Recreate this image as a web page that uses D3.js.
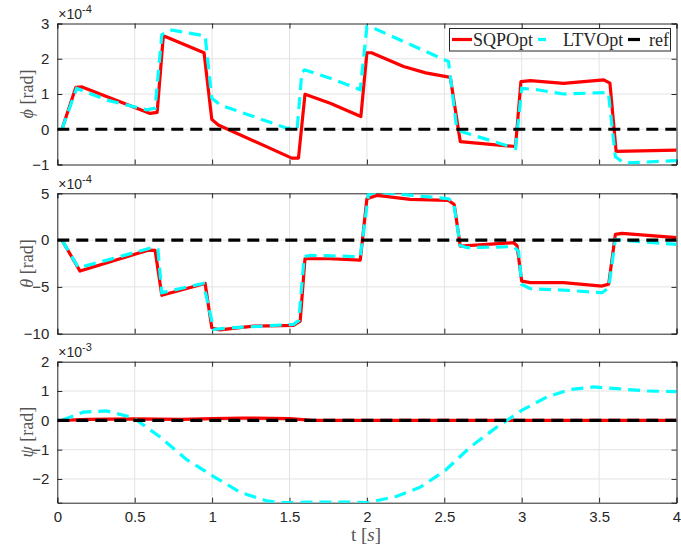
<!DOCTYPE html>
<html>
<head>
<meta charset="utf-8">
<script src="https://cdn.jsdelivr.net/npm/d3@7"></script>
<style>
  html, body { margin: 0; padding: 0; background: #fff; }
  svg { display: block; }
</style>
</head>
<body>
<svg id="chart" width="681" height="548"></svg>
<script>
// Roll angle phi (x1e-4 rad)
const phiSqpT = [0.03, 0.12, 0.16, 0.60, 0.645, 0.685, 0.948, 0.998, 1.04, 1.515, 1.558, 1.60, 1.763, 1.961, 2.0, 2.03, 2.12, 2.237, 2.38, 2.539, 2.603, 2.96, 2.995, 3.056, 3.27, 3.53, 3.57, 3.61, 4.0];
const phiSqp  = [0, 1.19, 1.2, 0.45, 0.48, 2.65, 2.17, 0.28, 0.12, -0.82, -0.82, 0.99, 0.74, 0.36, 2.17, 2.17, 2.0, 1.78, 1.6, 1.47, -0.35, -0.49, 1.35, 1.38, 1.30, 1.40, 1.31, -0.63, -0.59];
const phiLtvT = [0.03, 0.125, 0.319, 0.578, 0.632, 0.675, 0.728, 0.955, 0.998, 1.052, 1.483, 1.55, 1.58, 1.60, 1.763, 1.957, 2.0, 2.043, 2.527, 2.58, 2.614, 2.96, 3.0, 3.1, 3.27, 3.53, 3.56, 3.605, 3.66, 4.0];
const phiLtv  = [0, 1.16, 0.83, 0.55, 0.60, 2.68, 2.82, 2.65, 0.88, 0.69, 0.03, 0.03, 1.63, 1.68, 1.45, 1.12, 2.91, 2.87, 1.92, 0.03, -0.07, -0.54, 1.16, 1.12, 1.0, 1.04, 1.04, -0.78, -0.96, -0.89];

// Pitch angle theta (x1e-4 rad)
const thetaSqpT = [0.03, 0.147, 0.588, 0.632, 0.675, 0.955, 0.998, 1.05, 1.267, 1.526, 1.569, 1.60, 1.763, 1.957, 2.0, 2.065, 2.28, 2.527, 2.564, 2.603, 2.948, 2.97, 3.0, 3.056, 3.27, 3.519, 3.562, 3.605, 3.648, 4.0];
const thetaSqp  = [0, -3.31, -1.07, -1.1, -5.9, -4.63, -9.36, -9.6, -9.19, -9.11, -8.65, -1.99, -1.99, -2.14, 4.42, 4.78, 4.35, 4.24, 3.81, -0.64, -0.28, -0.6, -4.38, -4.55, -4.55, -4.91, -4.7, 0.61, 0.72, 0.26];
const thetaLtvT = [0.03, 0.136, 0.34, 0.61, 0.65, 0.675, 0.944, 1.01, 1.138, 1.526, 1.56, 1.595, 1.634, 1.957, 2.01, 2.065, 2.30, 2.527, 2.56, 2.603, 2.646, 2.948, 2.98, 3.0, 3.056, 3.27, 3.519, 3.562, 3.605, 3.66, 4.0];
const thetaLtv  = [0, -2.95, -2.06, -0.81, -1.0, -5.62, -4.63, -9.54, -9.36, -9.0, -8.6, -1.77, -1.63, -1.77, 4.88, 5.13, 4.78, 4.42, 4.0, -0.57, -0.81, -0.7, -1.2, -4.73, -5.19, -5.34, -5.62, -5.1, 0.07, -0.03, -0.46];

// Yaw angle psi (x1e-3 rad)
const psiSqpT = [0.03, 0.2, 0.5, 0.8, 1.0, 1.2, 1.5, 1.65, 4.0];
const psiSqp  = [0, 0.03, 0.05, 0.03, 0.06, 0.08, 0.06, 0.0, 0.0];
const psiLtvT = [0.03, 0.168, 0.319, 0.491, 0.664, 0.836, 1.008, 1.18, 1.354, 1.46, 1.677, 1.89, 2.0, 2.194, 2.345, 2.506, 2.668, 2.84, 3.0, 3.164, 3.314, 3.465, 3.616, 3.81, 4.0];
const psiLtv  = [0, 0.28, 0.32, 0.09, -0.57, -1.34, -1.91, -2.45, -2.75, -2.81, -2.79, -2.79, -2.81, -2.59, -2.28, -1.71, -0.91, -0.23, 0.34, 0.8, 1.05, 1.14, 1.08, 1.0, 0.98];

// Axis ticks
const xTicks = [0, 0.5, 1, 1.5, 2, 2.5, 3, 3.5, 4];
const xTickLabels = ["0", "0.5", "1", "1.5", "2", "2.5", "3", "3.5", "4"];
const phiTicks = [-1, 0, 1, 2, 3];
const thetaTicks = [-10, -5, 0, 5];
const psiTicks = [-2, -1, 0, 1, 2];

const legendNames = ["SQPOpt", "LTVOpt", "ref"];

const svg = d3.select("#chart");
const axisColor = "#262626";
const gridColor = "#e3e3e3";
const sansFont = "'Liberation Sans', Arial, Helvetica, sans-serif";
const serifFont = "'Liberation Serif', 'DejaVu Serif', serif";

const x = d3.scaleLinear().domain([0, 4]).range([57.3, 676.5]);

const panels = [
  { top: 23.5, bottom: 164.5, domain: [-1, 3], ticks: phiTicks, sym: "\u03d5", exp: "-4",
    sqpT: phiSqpT, sqp: phiSqp, ltvT: phiLtvT, ltv: phiLtv, xlabels: false },
  { top: 193.3, bottom: 333.7, domain: [-10, 5], ticks: thetaTicks, sym: "\u03b8", exp: "-4",
    sqpT: thetaSqpT, sqp: thetaSqp, ltvT: thetaLtvT, ltv: thetaLtv, xlabels: false },
  { top: 361.7, bottom: 502.7, domain: [-2.81, 2], ticks: psiTicks, sym: "\u03c8", exp: "-3",
    sqpT: psiSqpT, sqp: psiSqp, ltvT: psiLtvT, ltv: psiLtv, xlabels: true }
];

panels.forEach((p, i) => {
  const y = d3.scaleLinear().domain(p.domain).range([p.bottom, p.top]);
  const g = svg.append("g");
  const clipId = "clip" + i;
  svg.append("clipPath").attr("id", clipId)
    .append("rect").attr("x", x(0)).attr("y", p.top)
    .attr("width", x(4) - x(0)).attr("height", p.bottom - p.top);

  // grid
  g.append("g").selectAll("line.vx").data(xTicks.slice(1, -1)).join("line")
    .attr("x1", d => x(d)).attr("x2", d => x(d))
    .attr("y1", p.top).attr("y2", p.bottom)
    .attr("stroke", gridColor).attr("stroke-width", 1);
  g.append("g").selectAll("line.hy").data(p.ticks.filter(t => y(t) > p.top + 1 && y(t) < p.bottom - 1)).join("line")
    .attr("x1", x(0)).attr("x2", x(4))
    .attr("y1", d => y(d)).attr("y2", d => y(d))
    .attr("stroke", gridColor).attr("stroke-width", 1);

  // axes with inward ticks
  const left = d3.axisLeft(y).tickValues(p.ticks).tickSize(-5).tickPadding(8).tickFormat(d3.format("d"));
  const right = d3.axisRight(y).tickValues(p.ticks).tickSize(-5).tickFormat("");
  const bottom = d3.axisBottom(x).tickValues(xTicks).tickSize(-5).tickPadding(9)
    .tickFormat((d, k) => p.xlabels ? xTickLabels[k] : "");
  const topAx = d3.axisTop(x).tickValues(xTicks).tickSize(-5).tickFormat("");

  [[left, `translate(${x(0)},0)`], [right, `translate(${x(4)},0)`],
   [bottom, `translate(0,${p.bottom})`], [topAx, `translate(0,${p.top})`]].forEach(([ax, tr]) => {
    const a = g.append("g").attr("transform", tr).call(ax);
    a.select(".domain").attr("stroke", axisColor).attr("stroke-width", 1);
    a.selectAll(".tick line").attr("stroke", axisColor).attr("stroke-width", 1);
    a.selectAll(".tick text").attr("fill", axisColor)
      .style("font-family", sansFont).style("font-size", "15px");
  });

  // exponent label
  const ex = g.append("text").attr("x", x(0) + 1).attr("y", p.top - 4.5)
    .attr("fill", axisColor).style("font-family", sansFont).style("font-size", "14px");
  ex.append("tspan").text("\u00d710");
  ex.append("tspan").attr("dy", -6).style("font-size", "11px").text(p.exp);

  // y label
  const cy = (p.top + p.bottom) / 2;
  const yl = g.append("text").attr("transform", `translate(33,${cy}) rotate(-90)`)
    .attr("text-anchor", "middle").attr("fill", "#555")
    .style("font-family", serifFont).style("font-size", "18px");
  yl.append("tspan").style("font-style", "italic").text(p.sym);
  yl.append("tspan").text(" [rad]");

  const line = d3.line().x(d => x(d[0])).y(d => y(d[1]));
  const plot = g.append("g").attr("clip-path", `url(#${clipId})`);

  // SQPOpt
  plot.append("path").datum(d3.zip(p.sqpT, p.sqp)).attr("d", line)
    .attr("fill", "none").attr("stroke", "#ff0000").attr("stroke-width", 3.2)
    .attr("stroke-linejoin", "round");
  // LTVOpt
  plot.append("path").datum(d3.zip(p.ltvT, p.ltv)).attr("d", line)
    .attr("fill", "none").attr("stroke", "#00ffff").attr("stroke-width", 3.2)
    .attr("stroke-dasharray", "12,7");
  // ref
  plot.append("path").datum([[0, 0], [4, 0]]).attr("d", line)
    .attr("fill", "none").attr("stroke", "#000").attr("stroke-width", 3.2)
    .attr("stroke-dasharray", "12,7");
});

// x label
const xl = svg.append("text").attr("x", 366).attr("y", 541).attr("text-anchor", "middle")
  .attr("fill", "#555").style("font-family", serifFont).style("font-size", "19px");
xl.append("tspan").text("t [");
xl.append("tspan").style("font-style", "italic").text("s");
xl.append("tspan").text("]");

// legend
const lg = svg.append("g");
lg.append("rect").attr("x", 449.5).attr("y", 28.5).attr("width", 221).attr("height", 22.5)
  .attr("fill", "#fff").attr("stroke", axisColor).attr("stroke-width", 1);
const legendItems = [
  { x1: 452, x2: 472, color: "#ff0000", dash: null, tx: 473, name: legendNames[0] },
  { x1: 538, x2: 558, color: "#00ffff", dash: "8,14", tx: 563, name: legendNames[1] },
  { x1: 628, x2: 648, color: "#000", dash: "12,10", tx: 649, name: legendNames[2] }
];
legendItems.forEach(it => {
  lg.append("line").attr("x1", it.x1).attr("x2", it.x2).attr("y1", 39.5).attr("y2", 39.5)
    .attr("stroke", it.color).attr("stroke-width", 3.2)
    .attr("stroke-dasharray", it.dash);
  lg.append("text").attr("x", it.tx).attr("y", 45.5).attr("fill", axisColor)
    .style("font-family", serifFont).style("font-size", "18px").text(it.name);
});
</script>
</body>
</html>
